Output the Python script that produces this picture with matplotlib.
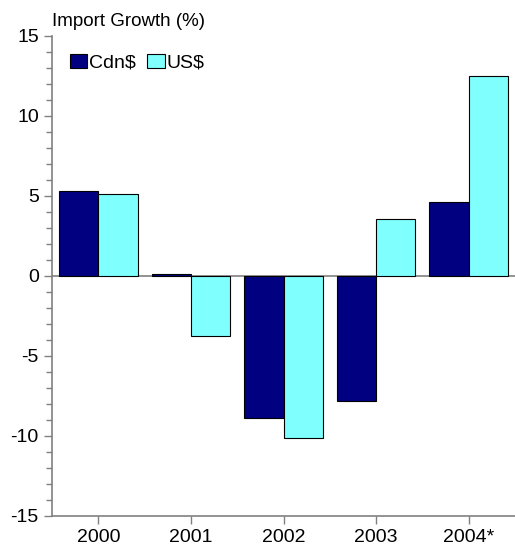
import numpy as np
import matplotlib.pyplot as plt
from matplotlib.ticker import MultipleLocator

plt.rcParams['font.family'] = ['Liberation Sans', 'DejaVu Sans']
plt.rcParams['axes.unicode_minus'] = False

# Data
years = ['2000', '2001', '2002', '2003', '2004*']
cdn = [5.3, 0.15, -8.9, -7.8, 4.6]
usd = [5.1, -3.75, -10.1, 3.55, 12.5]

fig = plt.figure(figsize=(5.15, 5.46), dpi=100)
ax = fig.add_axes([52 / 515, 30 / 546, 463 / 515, 480 / 546])

x = np.arange(len(years))
w = 0.425
ax.bar(x - w / 2, cdn, w, color='#000080', edgecolor='black', linewidth=0.8, label='Cdn$', zorder=2)
ax.bar(x + w / 2, usd, w, color='#80FFFF', edgecolor='black', linewidth=0.8, label='US$', zorder=2)
ax.axhline(0, color='#808080', linewidth=1.2, zorder=1)

ax.set_xlim(-0.5, 4.5)
ax.set_ylim(-15, 15)
ax.set_xticks(x)
ax.set_xticklabels(years)
ax.yaxis.set_major_locator(MultipleLocator(5))
ax.yaxis.set_minor_locator(MultipleLocator(1))

for s in ['top', 'right']:
    ax.spines[s].set_visible(False)
for s in ['left', 'bottom']:
    ax.spines[s].set_color('#808080')
    ax.spines[s].set_linewidth(1.2)

ax.tick_params(axis='both', which='major', labelsize=14, color='#808080', length=6, width=1, direction='out')
ax.tick_params(axis='y', which='minor', color='#808080', length=4, width=1)

fig.text(52 / 515, 1 - 22 / 546, 'Import Growth (%)', fontsize=13.5, va='center', ha='left')

ax.legend(loc='upper left', bbox_to_anchor=(0.0, 1.0), frameon=False, fontsize=14,
          ncol=2, handlelength=0.9, handleheight=0.8, handletextpad=0.1, columnspacing=0.6)

fig.savefig('out.png', dpi=100)
